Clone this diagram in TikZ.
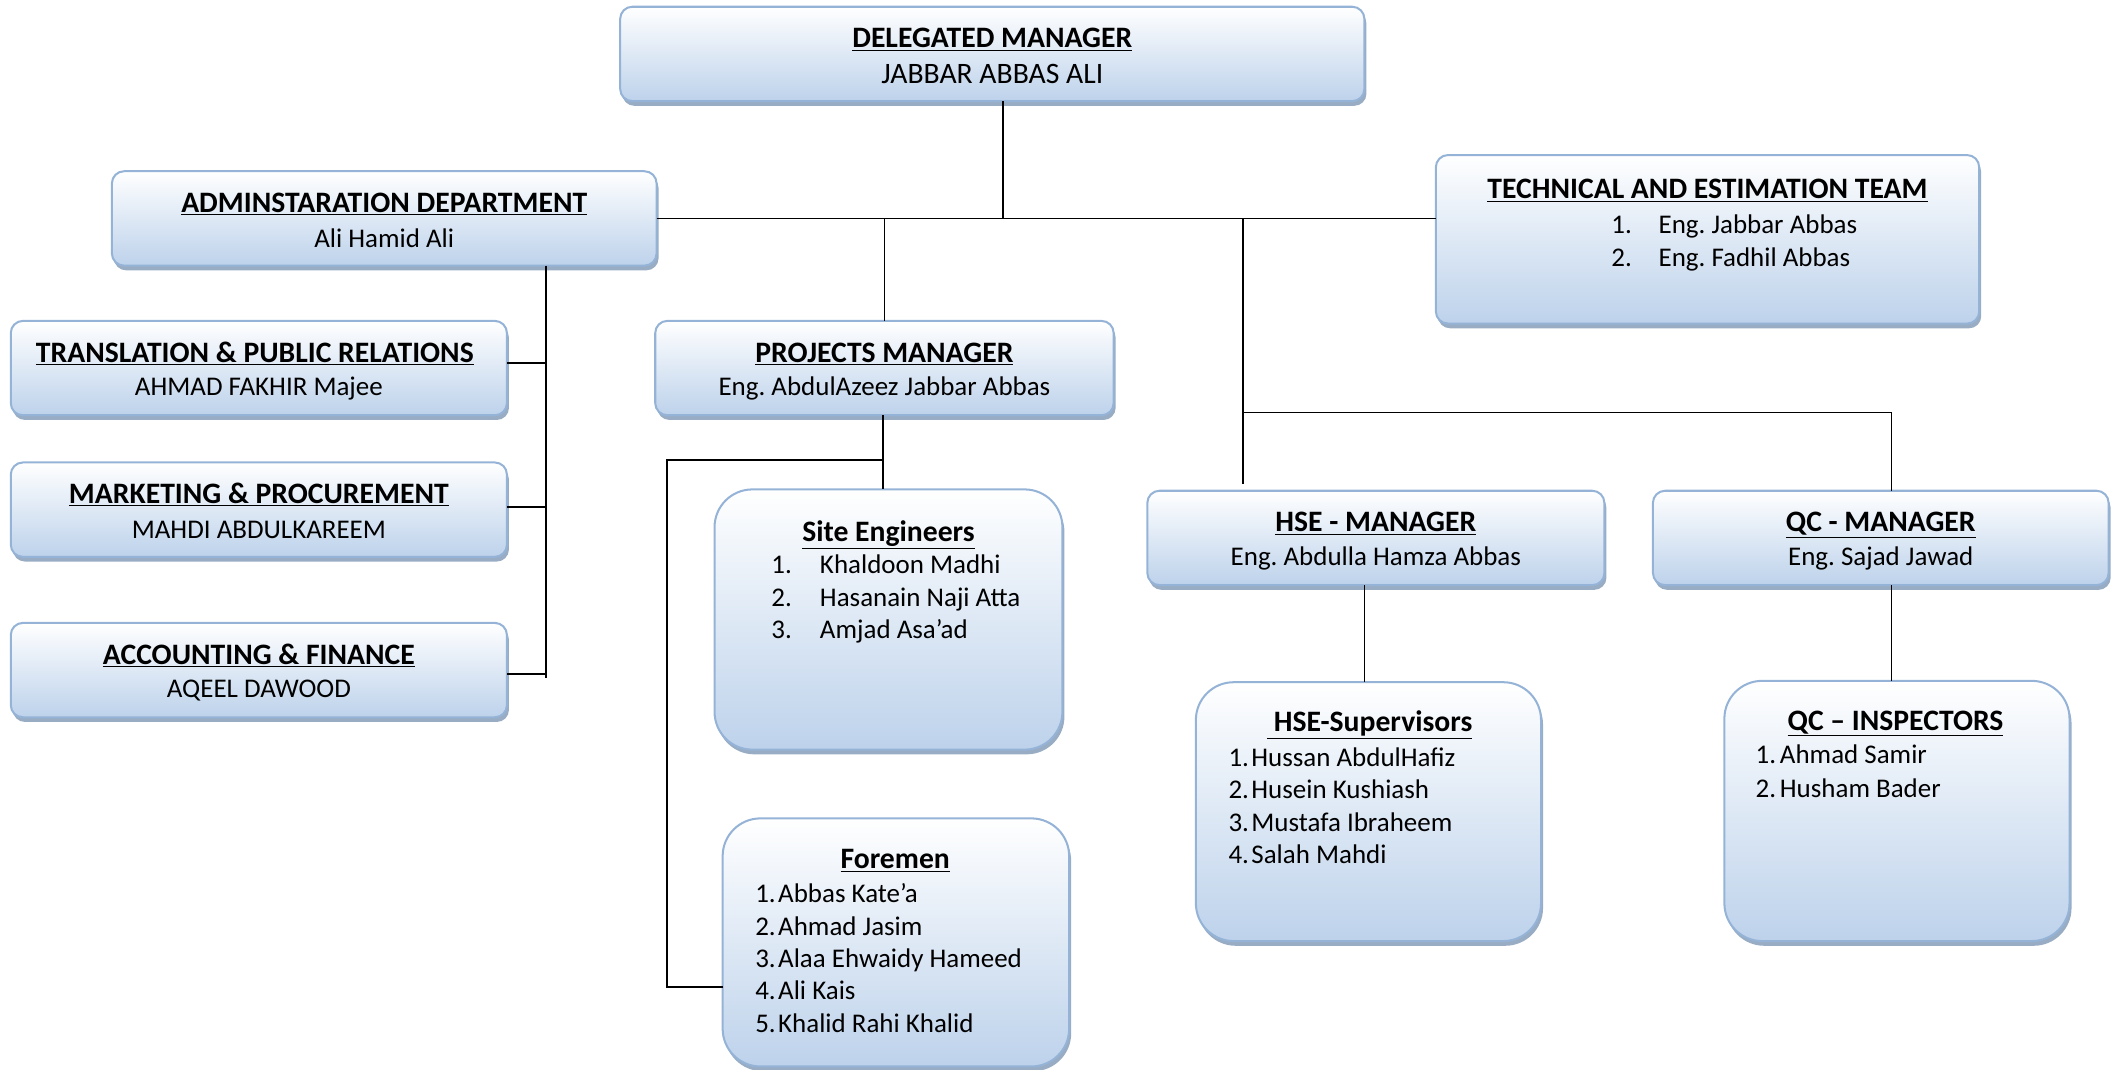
\documentclass[tikz,border=0pt]{standalone}
\usepackage{fontspec}
\setmainfont{Carlito}
\usetikzlibrary{shadows,calc}
\definecolor{boxedge}{HTML}{95B3D7}
\definecolor{boxfill}{HTML}{BDD2EB}
\definecolor{shadowc}{HTML}{8DA3BE}
\frenchspacing
\tikzset{
  box/.style={draw=boxedge, line width=1.5pt, rounded corners=9pt, top color=white, bottom color=boxfill,
    inner sep=0pt, outer sep=0pt,
    drop shadow={shadow xshift=1.5pt, shadow yshift=-3.5pt, fill=shadowc, opacity=0.9}},
  tallbox/.style={box, rounded corners=28pt},
  txt/.style={anchor=base, inner sep=0pt, font=\fontsize{20}{24}\selectfont},
  bigtxt/.style={anchor=base, inner sep=0pt, font=\fontsize{22}{26}\selectfont},
  ttl/.style={anchor=base, inner sep=0pt, font=\fontsize{22}{26}\selectfont\bfseries},
  itm/.style={anchor=base west, inner sep=0pt, font=\fontsize{20}{24}\selectfont},
  conn/.style={draw=black, line width=1.3pt},
}
\begin{document}
\begin{tikzpicture}[x=1pt,y=-1pt]
\useasboundingbox (0,0) rectangle (1568,793);

% boxes
\node[box, minimum width=552, minimum height=70] (dm) at (736,40) {};
\node[box, minimum width=404, minimum height=70] (admin) at (285,162) {};
\node[box, minimum width=403, minimum height=125] (tech) at (1266.5,177.5) {};
\node[box, minimum width=368, minimum height=70] (trans) at (192,273) {};
\node[box, minimum width=368, minimum height=70] (mark) at (192,378) {};
\node[box, minimum width=368, minimum height=70] (acct) at (192,497) {};
\node[box, minimum width=340, minimum height=70] (pm) at (656,273) {};
\node[tallbox, minimum width=258, minimum height=193] (site) at (659,459.5) {};
\node[tallbox, minimum width=257, minimum height=184] (fore) at (664.5,699) {};
\node[box, minimum width=339, minimum height=70] (hse) at (1020.5,399) {};
\node[tallbox, minimum width=256, minimum height=192] (sup) at (1015,602) {};
\node[box, minimum width=338, minimum height=70] (qc) at (1395,399) {};
\node[tallbox, minimum width=256, minimum height=193] (insp) at (1407,601.5) {};

% connectors
\coordinate (j0) at (744,162);
\draw[conn] (dm.south -| j0) -- (j0);
\draw[conn] (admin.east) -- (tech.west |- admin.east);
\draw[conn] (pm.north) -- (pm.north |- admin.east);
\coordinate (h0) at (922,162);
\coordinate (h1) at (922,306);
\coordinate (q0) at (1403,306);
\draw[conn] (h0) -- ($(h0 |- hse.north)+(0,-5)$);
\draw[conn] (h1) -- (q0) -- (q0 |- qc.north);
\coordinate (s0) at (1012,0);
\draw[conn] (s0 |- hse.south) -- (s0 |- sup.north);
\draw[conn] (q0 |- qc.south) -- (q0 |- insp.north);
\coordinate (p0) at (655,341);
\coordinate (p1) at (495,341);
\coordinate (p2) at (495,732);
\draw[conn] (pm.south -| p0) -- (p0 |- site.north);
\draw[conn] (p0) -- (p1) -- (p2) -- (fore.west |- p2);
\coordinate (a0) at (405,503);
\coordinate (a1) at (405,269);
\coordinate (a2) at (405,376);
\coordinate (a3) at (405,500);
\draw[conn] (a0 |- admin.south) -- (a0);
\draw[conn] (a1) -- (trans.east |- a1);
\draw[conn] (a2) -- (mark.east |- a2);
\draw[conn] (a3) -- (acct.east |- a3);

% texts
\node[ttl] (dmt) at (736,35.5) {\underline{DELEGATED MANAGER}};
\node[bigtxt] (dmn) at (736,62) {JABBAR ABBAS ALI};
\node[ttl] (admt) at (285,157.5) {\underline{ADMINSTARATION DEPARTMENT}};
\node[txt] (admn) at (285,183.5) {Ali Hamid Ali};
\node[ttl] (techt) at (1266.5,147.5) {\underline{TECHNICAL AND ESTIMATION TEAM}};
\node[itm] (tn1) at (1195,173.5) {1.};
\node[itm] (ti1) at (1230,173.5) {Eng. Jabbar Abbas};
\node[itm] (tn2) at (1195,197.5) {2.};
\node[itm] (ti2) at (1230,197.5) {Eng. Fadhil Abbas};
\node[ttl] (trt) at (189,268.5) {\underline{TRANSLATION \& PUBLIC RELATIONS}};
\node[txt] (trn) at (192,293.5) {AHMAD FAKHIR Majee};
\node[ttl] (mkt) at (192,373.5) {\underline{MARKETING \& PROCUREMENT}};
\node[txt] (mkn) at (192,399.5) {MAHDI ABDULKAREEM};
\node[ttl] (act) at (192,492.5) {\underline{ACCOUNTING \& FINANCE}};
\node[txt] (acn) at (192,517.5) {AQEEL DAWOOD};
\node[ttl] (pmt) at (656,268.5) {\underline{PROJECTS MANAGER}};
\node[txt] (pmn) at (656,293.5) {Eng. AbdulAzeez Jabbar Abbas};
\node[ttl] (sitet) at (659,401.5) {\underline{Site Engineers}};
\node[itm] (sn1) at (572,425.5) {1.};
\node[itm] (si1) at (608,425.5) {Khaldoon Madhi};
\node[itm] (sn2) at (572,449.5) {2.};
\node[itm] (si2) at (608,449.5) {Hasanain Naji Atta};
\node[itm] (sn3) at (572,473.5) {3.};
\node[itm] (si3) at (608,473.5) {Amjad Asa’ad};
\node[ttl] (foret) at (664,644.5) {\underline{Foremen}};
\node[itm] (fn1) at (560,669.5) {1.};
\node[itm] (fi1) at (577,669.5) {Abbas Kate’a};
\node[itm] (fn2) at (560,693.5) {2.};
\node[itm] (fi2) at (577,693.5) {Ahmad Jasim};
\node[itm] (fn3) at (560,717.5) {3.};
\node[itm] (fi3) at (577,717.5) {Alaa Ehwaidy Hameed};
\node[itm] (fn4) at (560,741.5) {4.};
\node[itm] (fi4) at (577,741.5) {Ali Kais};
\node[itm] (fn5) at (560,765.5) {5.};
\node[itm] (fi5) at (577,765.5) {Khalid Rahi Khalid};
\node[ttl] (hset) at (1020.5,394.5) {\underline{HSE - MANAGER}};
\node[txt] (hsen) at (1020.5,419.5) {Eng. Abdulla Hamza Abbas};
\node[ttl] (supt) at (1016,542.5) {\underline{\ HSE-Supervisors}};
\node[itm] (un1) at (911,568.5) {1.};
\node[itm] (ui1) at (928,568.5) {Hussan AbdulHafiz};
\node[itm] (un2) at (911,592.5) {2.};
\node[itm] (ui2) at (928,592.5) {Husein Kushiash};
\node[itm] (un3) at (911,616.5) {3.};
\node[itm] (ui3) at (928,616.5) {Mustafa Ibraheem};
\node[itm] (un4) at (911,640.5) {4.};
\node[itm] (ui4) at (928,640.5) {Salah Mahdi};
\node[ttl] (qct) at (1395,394.5) {\underline{QC - MANAGER}};
\node[txt] (qcn) at (1395,419.5) {Eng. Sajad Jawad};
\node[ttl] (inspt) at (1406,541.5) {\underline{QC – INSPECTORS}};
\node[itm] (in1) at (1302,566.5) {1.};
\node[itm] (ii1) at (1320,566.5) {Ahmad Samir};
\node[itm] (in2) at (1302,591.5) {2.};
\node[itm] (ii2) at (1320,591.5) {Husham Bader};
\end{tikzpicture}
\end{document}
